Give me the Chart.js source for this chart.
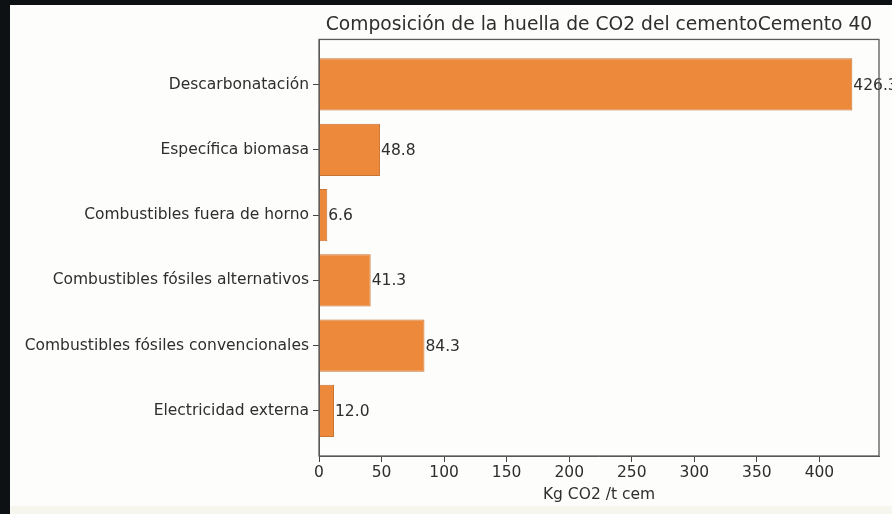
<!DOCTYPE html>
<html>
<head>
<meta charset="utf-8">
<script src="https://cdn.jsdelivr.net/npm/chart.js@4.4.0/dist/chart.umd.min.js"></script>
<style>
  html, body { margin: 0; padding: 0; background: #0e1114; }
  #wrap { width: 892px; height: 514px; position: relative; }
</style>
</head>
<body>
<div id="wrap"><canvas id="co2Chart" width="892" height="514"></canvas></div>
<script>
// Data (top to bottom)
const categories = [
  "Descarbonatación",
  "Específica biomasa",
  "Combustibles fuera de horno",
  "Combustibles fósiles alternativos",
  "Combustibles fósiles convencionales",
  "Electricidad externa",
];
const values = [426.3, 48.8, 6.6, 41.3, 84.3, 12.0];
const xTicks = [0, 50, 100, 150, 200, 250, 300, 350, 400];

const chartTitle = "Composición de la huella de CO2 del cementoCemento 40";
const xTitle = "Kg CO2 /t cem";

const textColor = "#2e2e2e";
const barColor = "rgb(237, 137, 58)";
const barEdge = "rgb(200, 116, 52)";
const fontSize = 15.5;

// Photo background: dark border on left/top, white sheet
const backgroundPlugin = {
  id: "background",
  beforeDraw(chart) {
    const ctx = chart.ctx;
    ctx.save();
    ctx.fillStyle = "#0e1114";
    ctx.fillRect(0, 0, chart.width, chart.height);
    ctx.fillStyle = "#fdfdfc";
    ctx.fillRect(10, 5, chart.width - 10, chart.height - 5);
    ctx.fillStyle = "#f6f5ee";
    ctx.fillRect(10, 506, chart.width - 10, chart.height - 506);
    ctx.restore();
  },
};

// Axes frame (all four spines)
const framePlugin = {
  id: "frame",
  afterDraw(chart) {
    const a = chart.chartArea;
    const ctx = chart.ctx;
    ctx.save();
    ctx.strokeStyle = "#5a5a5a";
    ctx.lineWidth = 1.3;
    ctx.strokeRect(a.left, a.top, a.right - a.left, a.bottom - a.top);
    ctx.restore();
  },
};

// Value labels at the end of each bar
const valueLabelPlugin = {
  id: "valueLabels",
  afterDatasetsDraw(chart) {
    const ctx = chart.ctx;
    const meta = chart.getDatasetMeta(0);
    ctx.save();
    ctx.font = fontSize + "px 'DejaVu Sans'";
    ctx.fillStyle = textColor;
    ctx.textAlign = "left";
    ctx.textBaseline = "middle";
    meta.data.forEach((bar, i) => {
      ctx.fillText(values[i].toFixed(1), bar.x + 1, bar.y + 1);
    });
    ctx.restore();
  },
};

const ctx = document.getElementById("co2Chart");

new Chart(ctx, {
  type: "bar",
  data: {
    datasets: [
      {
        data: values.map((v, i) => ({ x: v, y: i })),
        backgroundColor: barColor,
        borderColor: barEdge,
        borderWidth: 1,
        categoryPercentage: 1,
        barPercentage: 0.8,
      },
    ],
  },
  options: {
    indexAxis: "y",
    responsive: false,
    animation: false,
    layout: {
      padding: { left: 10, right: 13, top: 0, bottom: 0 },
    },
    plugins: {
      legend: { display: false },
      tooltip: { enabled: false },
      title: {
        display: true,
        text: chartTitle,
        fullSize: false,
        color: textColor,
        font: { family: "DejaVu Sans", size: 18.7, weight: "normal" },
        padding: { top: 14, bottom: 3 },
      },
    },
    scales: {
      x: {
        type: "linear",
        min: 0,
        max: Math.max(...values) * 1.05,
        afterFit(scale) {
          scale.height = 58;
        },
        afterBuildTicks(scale) {
          scale.ticks = xTicks.map((v) => ({ value: v }));
        },
        ticks: {
          color: textColor,
          font: { family: "DejaVu Sans", size: fontSize },
          padding: 2,
          maxRotation: 0,
        },
        grid: {
          drawOnChartArea: false,
          tickLength: 6,
          color: "#444",
        },
        border: { display: true, color: "#5a5a5a" },
        title: {
          display: true,
          text: xTitle,
          color: textColor,
          font: { family: "DejaVu Sans", size: fontSize },
          padding: { top: 0, bottom: 10 },
        },
      },
      y: {
        type: "linear",
        reverse: true,
        offset: false,
        min: -0.69,
        max: categories.length - 1 + 0.69,
        afterFit(scale) {
          scale.width = 309;
        },
        afterBuildTicks(scale) {
          scale.ticks = categories.map((c, i) => ({ value: i }));
        },
        ticks: {
          color: textColor,
          font: { family: "DejaVu Sans", size: fontSize },
          padding: 4,
          callback: (value) => categories[value],
        },
        grid: {
          offset: false,
          drawOnChartArea: false,
          tickLength: 6,
          color: "#444",
        },
        border: { display: true, color: "#5a5a5a" },
      },
    },
  },
  plugins: [backgroundPlugin, framePlugin, valueLabelPlugin],
});
</script>
</body>
</html>
